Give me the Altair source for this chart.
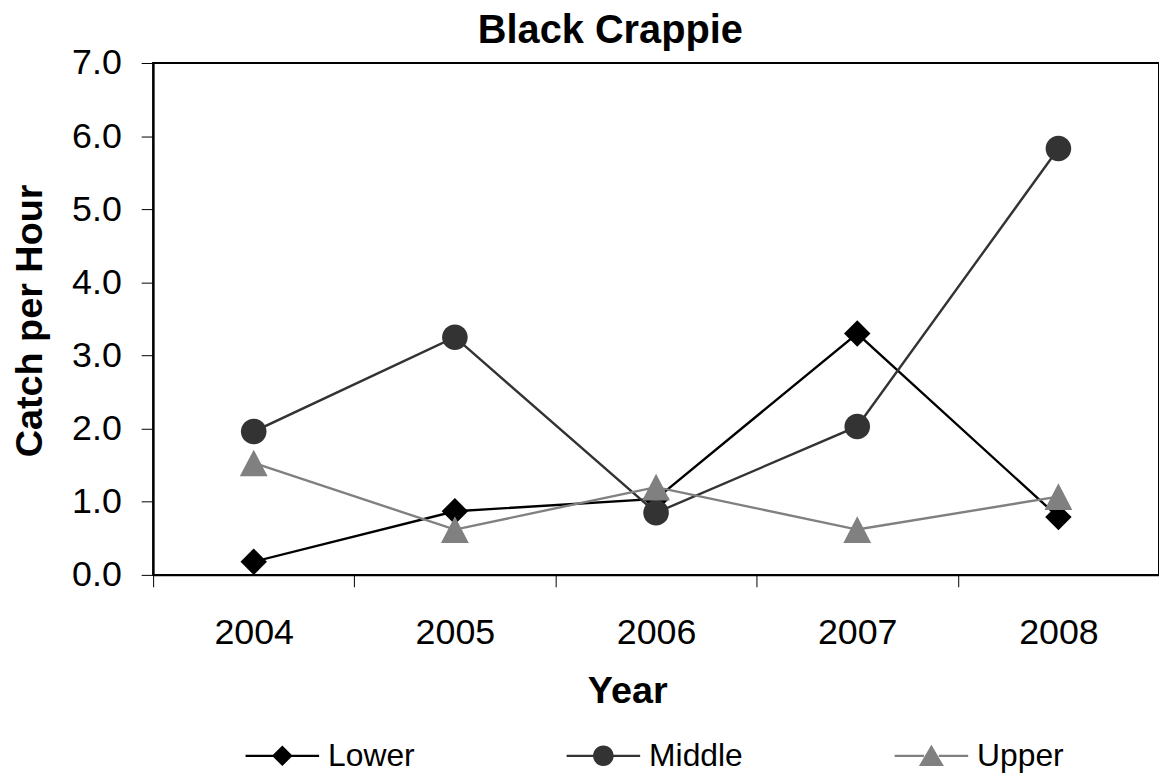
import altair as alt
import pandas as pd

years = [2004, 2005, 2006, 2007, 2008]
series_names = ["Lower", "Middle", "Upper"]
lower = [0.18, 0.87, 1.04, 3.30, 0.79]
middle = [1.96, 3.25, 0.85, 2.03, 5.83]
upper = [1.53, 0.62, 1.20, 0.62, 1.07]
colors = ["#000000", "#333333", "#808080"]

rows = []
for name, vals in zip(series_names, [lower, middle, upper]):
    for yr, v in zip(years, vals):
        rows.append({"Year": yr, "Series": name, "Value": v})
df = pd.DataFrame(rows)

FONT = "Liberation Sans"
W, H = 1012, 515

# tick positions at category boundaries
tick_vals = [y - 0.5 for y in years] + [years[-1] + 0.5]

x_enc = alt.X(
    "Year:Q",
    scale=alt.Scale(domain=[years[0] - 0.5, years[-1] + 0.5], nice=False, zero=False),
    axis=alt.Axis(
        values=tick_vals,
        labelExpr="datum.value < 2008 ? format(datum.value + 0.5, 'd') : ''",
        labelOffset=W / len(years) / 2,
        labelFlush=False,
        labelOverlap=False,
        labelFont=FONT,
        labelFontSize=36,
        labelColor="#000000",
        labelPadding=29,
        tickSize=12,
        tickColor="#000000",
        tickWidth=1,
        domainColor="#000000",
        domainWidth=2,
        grid=False,
        title="Year",
        titleFont=FONT,
        titleFontSize=38,
        titleFontWeight="bold",
        titleColor="#000000",
        titleBaseline="alphabetic",
        titleX=477,
        titleY=128,
    ),
)

y_enc = alt.Y(
    "Value:Q",
    scale=alt.Scale(domain=[0, 7], nice=False, zero=True),
    axis=alt.Axis(
        values=[0, 1, 2, 3, 4, 5, 6, 7],
        format=".1f",
        labelFont=FONT,
        labelFontSize=36,
        labelColor="#000000",
        labelPadding=20,
        tickSize=12,
        tickColor="#000000",
        tickWidth=1,
        domainColor="#000000",
        domainWidth=2,
        grid=False,
        title="Catch per Hour",
        titleFont=FONT,
        titleFontSize=38,
        titleFontWeight="bold",
        titleColor="#000000",
        titleBaseline="alphabetic",
        titleAngle=-90,
        titleX=-112,
        titleY=259,
    ),
)

color_scale = alt.Scale(domain=series_names, range=colors)

# plot marker shapes (unit box -1..1)
plot_shapes = [
    "M0,-0.95L0.95,0L0,0.95L-0.95,0Z",
    "M-0.92,0A0.92,0.92,0,1,1,0.92,0A0.92,0.92,0,1,1,-0.92,0Z",
    "M0,-0.96L1,0.96L-1,0.96Z",
]

# legend symbols: line segment + marker
def seg(a, b, t=0.03):
    return f"M{a},{-t}H{b}V{t}H{a}Z"

legend_shapes = [
    seg(-1, -0.2) + "M0,-0.28L0.28,0L0,0.28L-0.28,0Z" + seg(0.2, 1),
    seg(-1, -0.2) + "M-0.28,0A0.28,0.28,0,1,1,0.28,0A0.28,0.28,0,1,1,-0.28,0Z" + seg(0.2, 1),
    seg(-1, -0.2) + "M0,-0.3L0.34,0.28L-0.34,0.28Z" + seg(0.2, 1),
]

base = alt.Chart(df)

lines = base.mark_line(strokeWidth=2.4).encode(
    x=x_enc,
    y=y_enc,
    color=alt.Color("Series:N", scale=color_scale, legend=None),
    detail="Series:N",
)

points = base.mark_point(filled=True, opacity=1, size=784, strokeWidth=0).encode(
    x=x_enc,
    y=y_enc,
    color=alt.Color("Series:N", scale=color_scale, legend=None),
    shape=alt.Shape("Series:N", scale=alt.Scale(domain=series_names, range=plot_shapes), legend=None),
    order=alt.Order("Series:N"),
)

legend_props = dict(
    orient="none",
    legendX=93,
    legendY=660,
    direction="horizontal",
    title=None,
    symbolSize=5476,
    symbolStrokeWidth=0,
    symbolOpacity=1,
    labelFont=FONT,
    labelFontSize=32,
    labelColor="#000000",
    labelOffset=9,
    columnPadding=152,
    padding=0,
)

# legend-only layer: no rows drawn, legend built from the explicit scale domains
legend_layer = base.transform_filter("datum.Value < 0").mark_point(filled=True, opacity=1).encode(
    x=x_enc,
    y=y_enc,
    color=alt.Color("Series:N", scale=alt.Scale(domain=series_names, range=colors),
                    legend=alt.Legend(**legend_props)),
    shape=alt.Shape("Series:N", scale=alt.Scale(domain=series_names, range=legend_shapes),
                    legend=alt.Legend(**legend_props)),
)

chart = (
    alt.layer(lines, points, legend_layer)
    .resolve_scale(color="independent", shape="independent")
    .properties(
        width=W,
        height=H,
        autosize=alt.AutoSizeParams(type="none"),
        padding={"left": 146, "top": 53, "right": 0, "bottom": 198},
        title=alt.TitleParams(
            "Black Crappie",
            font=FONT,
            fontSize=40,
            fontWeight="bold",
            color="#000000",
            anchor="middle",
            frame="group",
            dx=-46,
            dy=10,
            offset=4,
        ),
        background="#ffffff",
    )
    .configure_view(stroke="#000000", strokeWidth=2)
)

chart.save("out.html", embed_options={"renderer": "svg", "actions": False})
